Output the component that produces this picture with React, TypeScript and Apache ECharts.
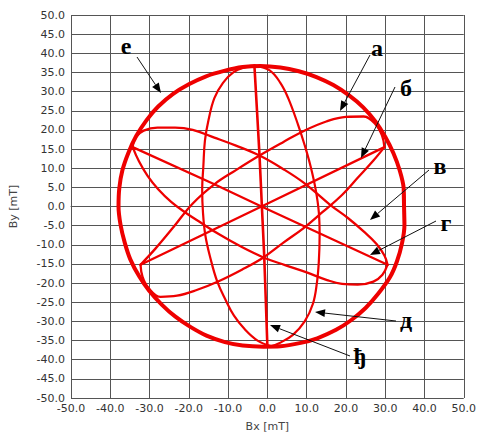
import React, { useEffect, useRef } from 'react';
import * as echarts from 'echarts';

// Outer circle (е), read around the loop (first/last points overlap to close it smoothly)
const curveE: number[][] = [
  [34.9, -4.8], [34.8, 0.0], [34.7, 4.8], [33.7, 9.4], [32.1, 13.9], [30.0, 18.2],
  [27.5, 22.2], [24.4, 25.9], [20.8, 29.0], [16.8, 31.7], [12.5, 33.8], [8.0, 35.3],
  [3.3, 36.3], [-1.8, 36.7], [-6.3, 36.4], [-11.0, 35.4], [-15.6, 34.0], [-20.0, 31.9],
  [-24.0, 29.4], [-27.8, 26.1], [-30.8, 22.5], [-33.4, 18.4], [-35.4, 14.0], [-36.9, 9.5],
  [-37.7, 4.8], [-37.9, 0.0], [-37.4, -4.7], [-36.3, -9.5], [-34.9, -13.8], [-32.6, -18.3],
  [-30.1, -22.0], [-26.9, -25.6], [-23.5, -28.7], [-19.5, -31.5], [-15.5, -33.7], [-10.8, -35.4],
  [-6.3, -36.3], [-1.0, -36.6], [3.3, -36.5], [8.5, -35.6], [12.7, -34.4], [17.5, -32.2],
  [21.3, -29.7], [25.0, -26.5], [28.2, -22.8], [31.2, -18.5], [33.0, -14.3], [34.3, -9.5],
  [34.9, -4.8], [34.8, 0.0], [34.7, 4.8],
];
// Vertical line (ђ)
const curveDj: number[][] = [
  [-3.3, 36.8], [-2.0, 13.3], [-1.4, 0.0], [-0.8, -13.1], [0.0, -36.5],
];
// Vertical ellipse (д): right and left arcs
const curveDRight: number[][] = [
  [-3.3, 36.8], [0.5, 35.6], [3.3, 32.3], [5.3, 28.3], [7.8, 21.4], [9.5, 16.0],
  [11.0, 10.5], [12.3, 4.4], [13.1, -1.5], [13.3, -7.5], [13.1, -14.4], [12.6, -20.0],
  [11.6, -25.4], [9.5, -30.0], [6.5, -33.5], [3.0, -35.7], [1.0, -36.5],
];
const curveDLeft: number[][] = [
  [1.0, -36.5], [-2.5, -35.0], [-5.8, -32.0], [-8.5, -28.5], [-10.6, -24.5], [-12.8, -19.5],
  [-14.5, -13.5], [-15.8, -7.5], [-16.4, -1.5], [-16.6, 4.5], [-16.3, 10.5], [-15.9, 17.2],
  [-15.0, 22.5], [-13.5, 28.3], [-11.3, 32.3], [-8.6, 35.1], [-5.6, 36.4], [-3.3, 36.8],
];
// Line (г)
const curveG: number[][] = [[-34.3, 15.5], [-13.5, 5.8], [-1.5, 0.0], [30.6, -15.2]];
// Line (б)
const curveB: number[][] = [[-32.3, -15.2], [-1.5, 0.0], [29.8, 15.5]];
// Ellipse (а): upper and lower arcs
const curveAUpper: number[][] = [
  [-32.3, -15.2], [-28.5, -11.0], [-24.0, -5.5], [-19.0, 0.8], [-13.5, 5.8], [-8.0, 9.5],
  [-2.0, 13.3], [4.0, 16.8], [9.4, 19.8], [15.0, 22.2], [20.0, 23.4], [24.5, 23.5],
  [27.5, 21.5], [29.2, 18.5], [29.8, 15.5],
];
const curveALower: number[][] = [
  [29.8, 15.5], [27.0, 12.0], [23.0, 7.5], [19.0, 3.0], [14.0, -1.5], [9.4, -5.5],
  [4.0, -9.5], [-1.0, -13.3], [-6.5, -16.5], [-12.4, -19.5], [-18.0, -21.8], [-23.0, -23.3],
  [-27.2, -23.6], [-30.3, -21.2], [-31.8, -18.3], [-32.3, -15.2],
];
// Ellipse (в): upper and lower arcs
const curveVUpper: number[][] = [
  [-34.3, 15.5], [-33.6, 18.0], [-31.5, 19.8], [-28.0, 20.6], [-23.5, 20.6], [-19.0, 20.0],
  [-13.5, 18.0], [-8.0, 15.9], [-2.0, 13.3], [4.0, 9.8], [9.4, 6.1], [15.9, 0.5],
  [20.5, -3.0], [24.5, -6.5], [27.8, -9.8], [29.8, -12.8], [30.6, -15.2],
];
const curveVLower: number[][] = [
  [30.6, -15.2], [29.3, -17.8], [27.0, -19.6], [23.0, -20.4], [19.0, -20.2], [15.2, -19.2],
  [10.0, -17.2], [4.5, -15.3], [-1.0, -13.3], [-6.5, -10.6], [-12.4, -7.2], [-17.0, -4.2],
  [-21.0, -1.5], [-24.5, 1.2], [-27.8, 4.5], [-30.5, 8.0], [-32.7, 11.8], [-34.3, 15.5],
];

const labels = ['е', 'а', 'б', 'в', 'г', 'д', 'ђ'];

export default function App() {
  const ref = useRef<HTMLDivElement>(null);
  useEffect(() => {
    const chart = echarts.init(ref.current!, null, { renderer: 'svg' });
    const red = '#ee0000';
    const mk = (data: number[][], width: number, smooth: number | boolean) => ({
      type: 'line',
      data,
      showSymbol: false,
      smooth,
      lineStyle: { color: red, width, cap: 'round', join: 'round' },
      silent: true,
    });

    const textPos: number[][] = [
      [126, 46], [377, 48], [406, 88], [440, 166], [446, 223], [406, 320], [360, 356],
    ];
    const arrows: number[][] = [
      [137, 57, 161, 93],
      [370, 55, 340, 111],
      [395, 87, 361, 158],
      [429, 170, 370, 220],
      [436, 221, 370, 255],
      [396, 321, 315, 312],
      [350, 356, 270, 325],
    ];
    const graphics: any[] = [];
    arrows.forEach(([x1, y1, x2, y2]) => {
      const dx = x2 - x1, dy = y2 - y1;
      const L = Math.hypot(dx, dy);
      const ux = dx / L, uy = dy / L;
      const hl = 10, hw = 4;
      const bx = x2 - ux * hl, by = y2 - uy * hl;
      graphics.push({
        type: 'line',
        shape: { x1, y1, x2: bx, y2: by },
        style: { stroke: '#111', lineWidth: 1 },
        z: 100,
      });
      graphics.push({
        type: 'polygon',
        shape: { points: [[x2, y2], [bx - uy * hw, by + ux * hw], [bx + uy * hw, by - ux * hw]] },
        style: { fill: '#000' },
        z: 100,
      });
    });
    labels.forEach((t, i) => {
      graphics.push({
        type: 'text',
        x: textPos[i][0],
        y: textPos[i][1],
        z: 100,
        style: {
          text: t,
          font: 'bold 24px "Liberation Serif", "DejaVu Serif", serif',
          fill: '#000',
          align: 'center',
          verticalAlign: 'middle',
          textAlign: 'center',
          textVerticalAlign: 'middle',
        },
      });
    });

    const axisCommon = {
      type: 'value',
      min: -50,
      max: 50,
      axisLine: { show: true, lineStyle: { color: '#555', width: 1 } },
      axisTick: { show: true, length: 4, lineStyle: { color: '#555' } },
      splitLine: { show: true, lineStyle: { color: '#555', width: 1 } },
      axisLabel: {
        color: '#333',
        fontSize: 11,
        fontFamily: 'DejaVu Sans',
        formatter: (v: number) => v.toFixed(1),
      },
      nameTextStyle: { color: '#444', fontSize: 11, fontFamily: 'DejaVu Sans' },
    };

    chart.setOption({
      animation: false,
      backgroundColor: '#fff',
      grid: { left: 61, right: 10, top: 15, bottom: 31, containLabel: false },
      xAxis: {
        ...axisCommon,
        interval: 10,
        name: 'Bx [mT]',
        nameLocation: 'middle',
        nameGap: 23,
        axisLabel: { ...axisCommon.axisLabel, margin: 5 },
      },
      yAxis: {
        ...axisCommon,
        interval: 5,
        name: 'By [mT]',
        nameLocation: 'middle',
        nameGap: 52,
        axisLabel: { ...axisCommon.axisLabel, margin: 6 },
      },
      series: [
        mk(curveE, 4, 0.3),
        mk(curveDRight, 2.2, 0.4),
        mk(curveDLeft, 2.2, 0.4),
        mk(curveAUpper, 2.3, 0.4),
        mk(curveALower, 2.3, 0.4),
        mk(curveVUpper, 2.3, 0.4),
        mk(curveVLower, 2.3, 0.4),
        mk(curveG, 2.3, false),
        mk(curveB, 2.3, false),
        mk(curveDj, 2.6, 0.2),
      ],
      graphic: graphics,
    });
    return () => chart.dispose();
  }, []);
  return (
    <div
      ref={ref}
      style={{ position: 'absolute', left: 0, top: 0, width: 479, height: 437 }}
    />
  );
}
